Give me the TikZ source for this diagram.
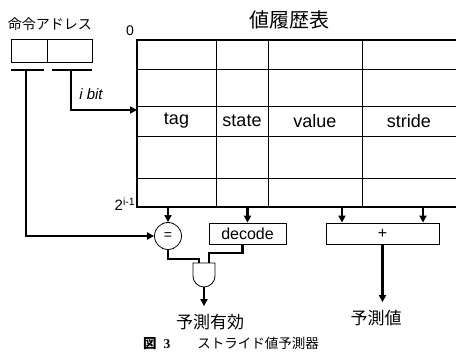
\documentclass[tikz,border=0pt]{standalone}
\usepackage{fontspec}
\setmainfont{Liberation Sans}
\newfontfamily\jp{Noto Sans CJK JP}
\newfontfamily\capnum{Liberation Serif}
\usetikzlibrary{arrows.meta, calc}
\tikzset{
    jtext/.style={font=\jp\fontsize{17}{19}\selectfont, inner sep=0pt, outer ysep=8pt},
    head/.style={font=\fontsize{18}{20}\selectfont, inner sep=0pt},
    unit/.style={rectangle, draw, line width=0.8pt, minimum height=21pt, inner sep=0pt, font=\fontsize{16}{18}\selectfont},
    cell/.style={rectangle, draw, line width=0.6pt, minimum height=23pt, inner sep=0pt},
    wire/.style={line width=2.2pt},
    arrow/.style={-{Triangle[length=7pt, width=7pt]}, line width=2.2pt},
    grid/.style={line width=0.8pt},
    frame/.style={line width=2pt},
}

\begin{document}
\begin{tikzpicture}[x=1pt, y=-1pt]
    \useasboundingbox (0,0) rectangle (456,355);
    \node[jtext, font=\jp\fontsize{14}{16}\selectfont, outer ysep=0pt] (addrlbl) at (50,24) {命令アドレス};
    \node[cell, minimum width=36pt] (hi) at (29,50.5) {};
    \node[cell, minimum width=45pt] (lo) at (69.5,50.5) {};
    \draw[wire] (11,70) -- (44,70);
    \draw[wire] (52,70) -- (92,70);
    \coordinate (tagbar) at (26,70);
    \coordinate (idxbar) at (71,70);
    \node[font=\itshape\fontsize{15}{17}\selectfont, inner sep=0pt] (ibit) at (91,94) {i bit};

    \node[jtext, font=\jp\fontsize{20}{22}\selectfont, outer ysep=0pt] (title) at (289,20) {値履歴表};
    \node[font=\fontsize{14}{16}\selectfont, inner sep=0pt] (zero) at (130,31) {0};
    \node[font=\fontsize{15}{17}\selectfont, inner sep=0pt] (last) at (125,204) {2\textsuperscript{i-1}};
    \coordinate (tblin) at (137,110);
    \coordinate (tblsw) at (137,207);
    \draw[frame] (456,40) -- (137,40) -- (tblsw) -- (456,207);
    \foreach \r in {69,106,136,178} \draw[grid] (137,\r) -- (456,\r);
    \foreach \c in {216,268,362} \draw[grid] (\c,40) -- (\c,207);
    \node[head] (tag) at (176.5,121) {tag};
    \node[head] (state) at (242,121) {state};
    \node[head] (value) at (315,121) {value};
    \node[head] (stride) at (409,121) {stride};

    \node[circle, draw, line width=0.8pt, minimum size=27pt, inner sep=0pt, font=\fontsize{14}{16}\selectfont] (eq) at (168,236) {=};
    \node[unit, minimum width=77pt] (dec) at (247.5,233.5) {decode};
    \node[unit, minimum width=113pt] (add) at (382.5,233.5) {+};
    \coordinate (addA) at (342,207);
    \coordinate (addB) at (423,207);

    \draw[line width=0.8pt] (193,263) -- (193,276) arc[start angle=180, end angle=0, radius=11] -- (215,263) -- cycle;
    \coordinate (gin1) at (199,263);
    \coordinate (gin2) at (209,263);
    \coordinate (gout) at (204,287);

    \node[jtext] (valid) at (210,322) {予測有効};
    \node[jtext] (pred) at (376,318) {予測値};

    \draw[arrow] (idxbar) |- (tblin);
    \draw[arrow] (tagbar) |- (eq.west);
    \draw[arrow] (eq.north |- tblsw) -- (eq.north);
    \draw[arrow] (dec.north |- tblsw) -- (dec.north);
    \foreach \p in {addA,addB} \draw[arrow] (\p) -- (\p |- add.north);
    \draw[wire] (eq.south) -- ++(0,9) -| (gin1);
    \draw[wire] ([xshift=-5pt]dec.south) -- ++(0,9) -| (gin2);
    \draw[arrow] (gout) -- (gout |- valid.north);
    \draw[arrow] (add.south) -- (add.south |- pred.north);

    \node[anchor=west, inner sep=0pt] (cap) at (143,343) {{\jp\bfseries\fontsize{13.5}{15}\selectfont 図}\hspace{7pt}{\capnum\bfseries\fontsize{13.5}{15}\selectfont 3}\hspace{27pt}{\jp\fontsize{13.5}{15}\selectfont ストライド値予測器}};
\end{tikzpicture}
\end{document}
